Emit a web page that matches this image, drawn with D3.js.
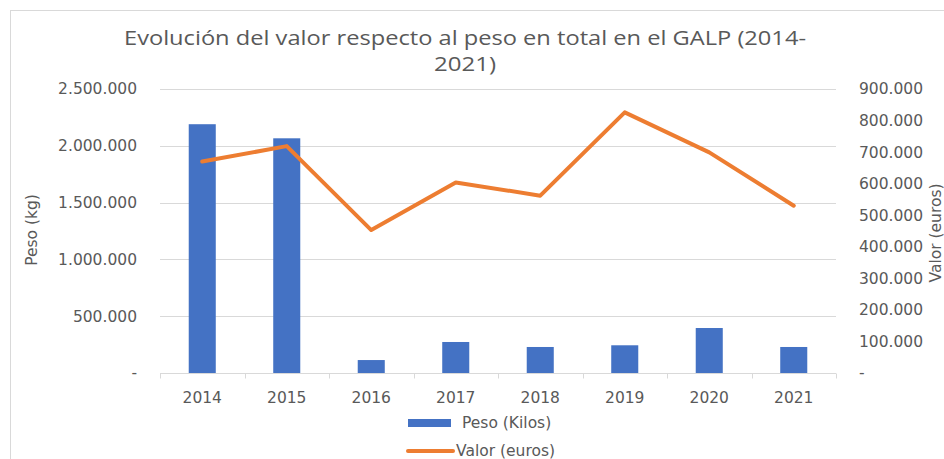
<!DOCTYPE html>
<html>
<head>
<meta charset="utf-8">
<script src="https://cdn.jsdelivr.net/npm/d3@7"></script>
<style>
  body { margin: 0; background: #fff; }
  svg text { font-family: "DejaVu Sans", sans-serif; fill: #595959; }
</style>
</head>
<body>
<div class="container"></div>
<script>
const years = ['2014', '2015', '2016', '2017', '2018', '2019', '2020', '2021'];
const peso = [2190000, 2066000, 114000, 273000, 229000, 244000, 396000, 229000];
const valor = [670000, 719000, 453000, 604000, 562000, 826000, 699000, 530000];
const pesoTicks = [0, 500000, 1000000, 1500000, 2000000, 2500000];
const valorTicks = [0, 100000, 200000, 300000, 400000, 500000, 600000, 700000, 800000, 900000];
const titleLines = ["Evolución del valor respecto al peso en total en el GALP (2014-", "2021)"];

const w = 944, h = 459,
    plot = { left: 160, right: 836, top: 89, bottom: 373 };

const loc = d3.formatLocale({ decimal: ',', thousands: '.', grouping: [3], currency: ['', '€'] });
const fmt = d => d === 0 ? '-' : loc.format(',')(d);

const xScale = d3.scaleBand()
    .domain(years)
    .range([plot.left, plot.right])
    .paddingInner(0.68)
    .paddingOuter(0.34);

const yScale = d3.scaleLinear()
    .domain([0, 2500000])
    .range([plot.bottom, plot.top]);

const y2Scale = d3.scaleLinear()
    .domain([0, 900000])
    .range([plot.bottom, plot.top]);

const svg = d3.select("div.container")
    .append("svg")
    .attr("width", w)
    .attr("height", h);

// chart border
svg.append("rect")
    .attr("x", 10.5)
    .attr("y", 10.5)
    .attr("width", w + 20)
    .attr("height", h + 20)
    .attr("fill", "none")
    .attr("stroke", "#d9d9d9");

// title
svg.append("g")
    .selectAll("text")
    .data(titleLines)
    .enter()
    .append("text")
    .attr("x", 465)
    .attr("y", (d, i) => 45 + i * 26)
    .attr("text-anchor", "middle")
    .attr("textLength", (d, i) => i ? 62 : 682)
    .attr("lengthAdjust", "spacingAndGlyphs")
    .style("font-family", "'Open Sans', sans-serif")
    .style("font-size", "20px")
    .text(d => d);

// gridlines
svg.append("g")
    .selectAll("line")
    .data(pesoTicks.slice(1))
    .enter()
    .append("line")
    .attr("x1", plot.left)
    .attr("x2", plot.right)
    .attr("y1", d => Math.round(yScale(d)) + 0.5)
    .attr("y2", d => Math.round(yScale(d)) + 0.5)
    .attr("stroke", "#d9d9d9")
    .attr("stroke-width", 1);

// left axis
const yAxis = d3.axisLeft(yScale)
    .tickValues(pesoTicks)
    .tickFormat(fmt)
    .tickSize(0)
    .tickPadding(23);

svg.append("g")
    .attr("id", "y-axis")
    .attr("transform", "translate(" + plot.left + ",0)")
    .call(yAxis)
    .call(g => g.select(".domain").remove())
    .call(g => g.selectAll("text").style("font-size", "15.5px").attr("fill", "#595959"));

// right axis
const y2Axis = d3.axisRight(y2Scale)
    .tickValues(valorTicks)
    .tickFormat(fmt)
    .tickSize(0)
    .tickPadding(23);

svg.append("g")
    .attr("id", "y2-axis")
    .attr("transform", "translate(" + plot.right + ",0)")
    .call(y2Axis)
    .call(g => g.select(".domain").remove())
    .call(g => g.selectAll("text").style("font-size", "15.5px").attr("fill", "#595959"));

// bars
svg.append("g")
    .selectAll("rect")
    .data(peso)
    .enter()
    .append("rect")
    .attr("x", (d, i) => xScale(years[i]))
    .attr("y", d => yScale(d))
    .attr("width", xScale.bandwidth())
    .attr("height", d => plot.bottom - yScale(d))
    .attr("fill", "#4472c4");

// x axis
const xAxis = d3.axisBottom(xScale)
    .tickSize(0)
    .tickPadding(18);

const xg = svg.append("g")
    .attr("id", "x-axis")
    .attr("transform", "translate(0," + (plot.bottom + 0.5) + ")")
    .call(xAxis);
xg.select(".domain").attr("stroke", "#d9d9d9").attr("d", "M" + plot.left + ",0H" + plot.right);
xg.selectAll("text").style("font-size", "15.5px").attr("fill", "#595959");
xg.selectAll("line.sep")
    .data(d3.range(years.length + 1))
    .enter()
    .append("line")
    .attr("class", "sep")
    .attr("x1", i => Math.round(plot.left + i * xScale.step()) + 0.5)
    .attr("x2", i => Math.round(plot.left + i * xScale.step()) + 0.5)
    .attr("y1", 0)
    .attr("y2", 5)
    .attr("stroke", "#d9d9d9");

// line
const line = d3.line()
    .x((d, i) => xScale(years[i]) + xScale.bandwidth() / 2)
    .y(d => y2Scale(d));

svg.append("path")
    .datum(valor)
    .attr("d", line)
    .attr("fill", "none")
    .attr("stroke", "#ed7d31")
    .attr("stroke-width", 4)
    .attr("stroke-linejoin", "round")
    .attr("stroke-linecap", "round");

// axis titles
svg.append("text")
    .text("Peso (kg)")
    .attr("transform", "translate(37,230) rotate(-90)")
    .attr("text-anchor", "middle")
    .style("font-size", "15.5px");

svg.append("text")
    .text("Valor (euros)")
    .attr("transform", "translate(941,233) rotate(-90)")
    .attr("text-anchor", "middle")
    .style("font-size", "15.5px");

// legend
const legend = svg.append("g").attr("id", "legend");
legend.append("rect")
    .attr("x", 408)
    .attr("y", 419)
    .attr("width", 43)
    .attr("height", 8)
    .attr("fill", "#4472c4");
legend.append("text")
    .text("Peso (Kilos)")
    .attr("x", 462)
    .attr("y", 428)
    .style("font-size", "15.5px");
legend.append("line")
    .attr("x1", 408)
    .attr("x2", 453)
    .attr("y1", 451)
    .attr("y2", 451)
    .attr("stroke", "#ed7d31")
    .attr("stroke-width", 4)
    .attr("stroke-linecap", "round");
legend.append("text")
    .text("Valor (euros)")
    .attr("x", 456)
    .attr("y", 456)
    .style("font-size", "15.5px");
</script>
</body>
</html>
